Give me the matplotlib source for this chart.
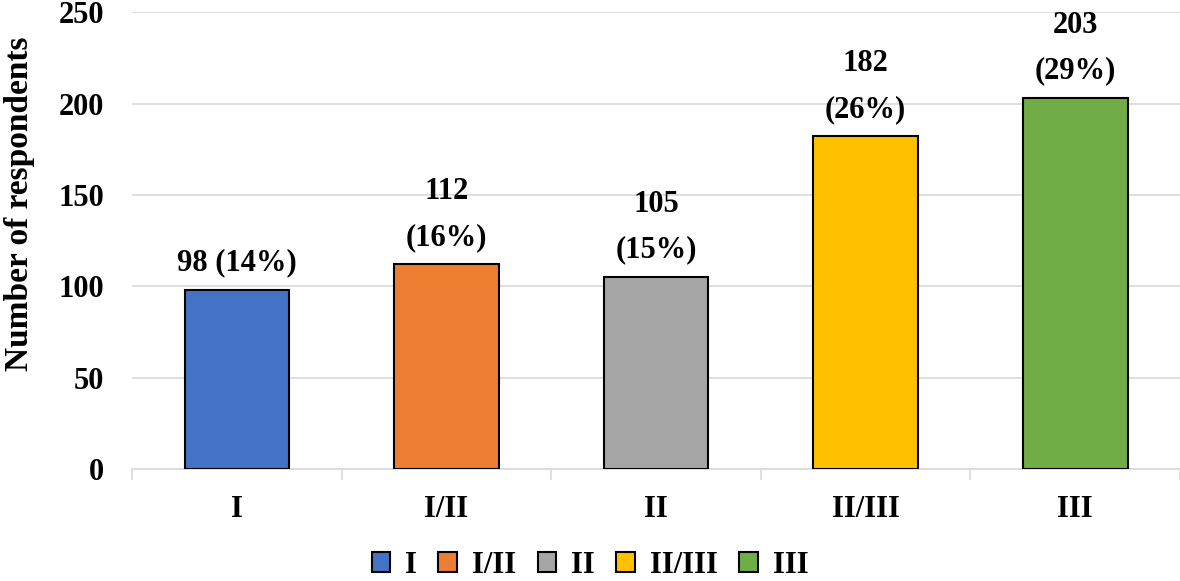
import matplotlib.pyplot as plt
import numpy as np

categories = ['I', 'I/II', 'II', 'II/III', 'III']
counts = [98, 112, 105, 182, 203]
percents = [14, 16, 15, 26, 29]
colors = ['#4472C4', '#ED7D31', '#A5A5A5', '#FFC000', '#70AD47']

# first bar label is on one line, the rest on two
label_text = []
for i, (c, p) in enumerate(zip(counts, percents)):
    sep = ' ' if i == 0 else '\n'
    label_text.append('{}{}({}%)'.format(c, sep, p))

plt.rcParams['font.family'] = ['Liberation Serif', 'DejaVu Serif']
plt.rcParams['font.weight'] = 'bold'

fig = plt.figure(figsize=(11.8, 5.81), dpi=100)
ax = fig.add_axes([0.112, 0.193, 0.888, 0.786])

x = np.arange(len(categories))
bars = ax.bar(x, counts, width=0.5, color=colors, edgecolor='black', linewidth=1.5,
              label=categories, zorder=3)

for xi, c, t in zip(x, counts, label_text):
    ax.annotate(t, (xi, c), xytext=(0, 9), textcoords='offset points',
                ha='center', va='bottom', fontsize=22, fontweight='bold',
                linespacing=1.75)

ax.set_xlim(-0.5, len(categories) - 0.5)
ax.set_ylim(0, 250)
ax.set_yticks(range(0, 251, 50))
ax.set_xticks(x)
ax.set_xticklabels(categories, fontsize=22, fontweight='bold')
ax.tick_params(axis='y', labelsize=22, length=0, pad=20)
ax.tick_params(axis='x', length=0, pad=19)
# category separator ticks
ax.set_xticks(np.arange(-0.5, len(categories), 1), minor=True)
ax.tick_params(axis='x', which='minor', length=8, color='#D9D9D9', width=1.2)
ax.grid(axis='y', color='#D9D9D9', linewidth=1.2, zorder=0)
for s in ['top', 'right', 'left']:
    ax.spines[s].set_visible(False)
ax.spines['bottom'].set_color('#D9D9D9')
ax.spines['bottom'].set_linewidth(1.2)

ax.set_ylabel('Number of respondents', fontsize=24, fontweight='bold')
ax.yaxis.set_label_coords(-0.093, 0.58)

fig.legend(handles=bars, labels=categories, loc='lower center', ncol=5,
           bbox_to_anchor=(0.5, -0.045), frameon=False, fontsize=22,
           handlelength=0.6, handleheight=0.6, handletextpad=0.5, columnspacing=0.7)

fig.savefig('out.png', dpi=100)
